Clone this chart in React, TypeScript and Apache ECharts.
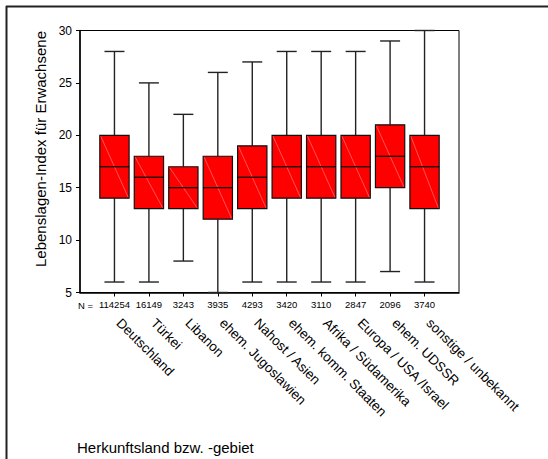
import React, { useEffect, useRef } from "react";
import * as echarts from "echarts";

const categories = [
  "Deutschland",
  "Türkei",
  "Libanon",
  "ehem. Jugoslawien",
  "Nahost / Asien",
  "ehem. komm. Staaten",
  "Afrika / Südamerika",
  "Europa / USA /Israel",
  "ehem. UDSSR",
  "sonstige / unbekannt",
];
const nValues = ["114254", "16149", "3243", "3935", "4293", "3420", "3110", "2847", "2096", "3740"];
const lows = [6, 6, 8, 5, 6, 6, 6, 6, 7, 6];
const q1s = [14, 13, 13, 12, 13, 14, 14, 14, 15, 13];
const medians = [17, 16, 15, 15, 16, 17, 17, 17, 18, 17];
const q3s = [20, 18, 17, 18, 19, 20, 20, 20, 21, 20];
const highs = [28, 25, 22, 26, 27, 28, 28, 28, 29, 30];
const yTicks = [5, 10, 15, 20, 25, 30];

const FONT = "'Liberation Sans', Arial, sans-serif";

export default function App() {
  const ref = useRef<HTMLDivElement>(null);
  useEffect(() => {
    document.body.style.margin = "0";
    const chart = echarts.init(ref.current!, null, { renderer: "svg" });
    const positions = categories.map((_, i) => i + 1);
    const data = categories.map((_, i) => [i + 1, lows[i], q1s[i], medians[i], q3s[i], highs[i]]);

    const option: any = {
      animation: false,
      backgroundColor: "#ffffff",
      textStyle: { fontFamily: FONT },
      grid: {
        left: 80,
        right: 89,
        top: 30.5,
        bottom: 166.5,
        show: true,
        borderColor: "#000",
        borderWidth: 1,
        backgroundColor: "transparent",
      },
      xAxis: [
        {
          type: "value",
          min: 0,
          max: 11,
          interval: 1,
          position: "bottom",
          splitLine: { show: false },
          axisLine: { show: true, lineStyle: { color: "#000", width: 1.5 } },
          axisTick: { show: true, length: 4, customValues: positions, lineStyle: { color: "#000" } },
          axisLabel: {
            show: true,
            customValues: positions,
            formatter: (v: number) => nValues[Math.round(v) - 1] ?? "",
            fontSize: 9.5,
            color: "#000",
            margin: 7,
            fontFamily: FONT,
          },
        },
        {
          type: "value",
          min: 0,
          max: 11,
          interval: 1,
          position: "bottom",
          offset: 18,
          splitLine: { show: false },
          axisLine: { show: false },
          axisTick: { show: false },
          axisLabel: {
            show: true,
            customValues: positions,
            formatter: (v: number) => categories[Math.round(v) - 1] ?? "",
            rotate: -45,
            fontSize: 13.5,
            color: "#000",
            margin: 6,
            padding: [0, 0, 0, 6],
            fontFamily: FONT,
          },
        },
      ],
      yAxis: {
        type: "value",
        min: 5,
        max: 30,
        interval: 5,
        splitLine: { show: false },
        axisLine: { show: true, lineStyle: { color: "#000", width: 1.5 } },
        axisTick: { show: true, length: 4, lineStyle: { color: "#000" } },
        axisLabel: {
          fontSize: 12,
          color: "#000",
          margin: 8,
          fontFamily: FONT,
          customValues: yTicks,
        },
      },
      series: [
        {
          type: "custom",
          xAxisIndex: 0,
          yAxisIndex: 0,
          encode: { x: 0, y: [1, 2, 3, 4, 5] },
          data,
          clip: false,
          renderItem: (params: any, api: any) => {
            const x = api.value(0);
            const pLo = api.coord([x, api.value(1)]);
            const pQ1 = api.coord([x, api.value(2)]);
            const pMed = api.coord([x, api.value(3)]);
            const pQ3 = api.coord([x, api.value(4)]);
            const pHi = api.coord([x, api.value(5)]);
            const unit = api.size([1, 0])[0];
            const bw = unit * 0.85;
            const cw = unit * 0.58;
            const cx = pMed[0];
            const wStyle = { stroke: "#222", lineWidth: 1.4 };
            return {
              type: "group",
              children: [
                { type: "line", shape: { x1: cx, y1: pHi[1], x2: cx, y2: pQ3[1] }, style: wStyle },
                { type: "line", shape: { x1: cx, y1: pQ1[1], x2: cx, y2: pLo[1] }, style: wStyle },
                { type: "line", shape: { x1: cx - cw / 2, y1: pHi[1], x2: cx + cw / 2, y2: pHi[1] }, style: wStyle },
                { type: "line", shape: { x1: cx - cw / 2, y1: pLo[1], x2: cx + cw / 2, y2: pLo[1] }, style: wStyle },
                {
                  type: "rect",
                  shape: { x: cx - bw / 2, y: pQ3[1], width: bw, height: pQ1[1] - pQ3[1] },
                  style: { fill: "#ff0000", stroke: "#111", lineWidth: 1.2 },
                },
                {
                  type: "line",
                  shape: { x1: cx - bw / 2 + 1, y1: pQ3[1] + 1, x2: cx + bw / 2 - 1, y2: pQ1[1] - 1 },
                  style: { stroke: "#ff8c8c", lineWidth: 0.6 },
                },
                {
                  type: "line",
                  shape: { x1: cx - bw / 2, y1: pMed[1], x2: cx + bw / 2, y2: pMed[1] },
                  style: { stroke: "#000", lineWidth: 1.2 },
                },
              ],
            };
          },
        },
      ],
      graphic: [
        { type: "line", shape: { x1: 6, y1: 6.5, x2: 548, y2: 6.5 }, style: { stroke: "#222", lineWidth: 2 } },
        { type: "line", shape: { x1: 6.5, y1: 6, x2: 6.5, y2: 459 }, style: { stroke: "#222", lineWidth: 2 } },
        {
          type: "text",
          x: 78,
          y: 305,
          style: { text: "N =", fontSize: 9.5, fill: "#000", fontFamily: FONT, align: "left", verticalAlign: "middle" },
        },
        {
          type: "text",
          x: 40,
          y: 149,
          rotation: Math.PI / 2,
          style: {
            text: "Lebenslagen-Index für Erwachsene",
            fontSize: 15,
            fill: "#000",
            fontFamily: FONT,
            align: "center",
            verticalAlign: "middle",
          },
        },
        {
          type: "text",
          x: 77,
          y: 447,
          style: {
            text: "Herkunftsland bzw. -gebiet",
            fontSize: 15,
            fill: "#000",
            fontFamily: FONT,
            align: "left",
            verticalAlign: "middle",
          },
        },
      ],
    };
    chart.setOption(option);
    return () => chart.dispose();
  }, []);
  return <div ref={ref} style={{ width: 548, height: 459 }} />;
}
